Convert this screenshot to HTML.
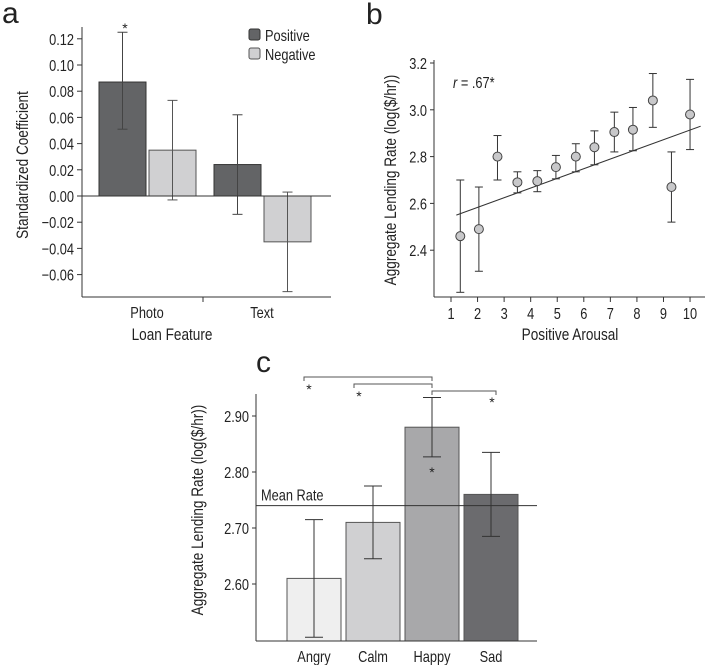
<!DOCTYPE html>
<html><head><meta charset="utf-8"><style>
body{margin:0;background:#fff}
svg{display:block}
text{font-family:"Liberation Sans",sans-serif;fill:#222}
</style></head><body>
<svg id="s" width="709" height="665"></svg>
<script>
// Panel a data
const aCats=["Photo","Text"];
const aPos=[0.087,0.024],aPosLo=[0.051,-0.014],aPosHi=[0.125,0.062];
const aNeg=[0.035,-0.035],aNegLo=[-0.003,-0.073],aNegHi=[0.073,0.003];
const aTicks=[0.12,0.10,0.08,0.06,0.04,0.02,0.00,-0.02,-0.04,-0.06];
const aTickLabels=["0.12","0.10","0.08","0.06","0.04","0.02","0.00","\u22120.02","\u22120.04","\u22120.06"];
// Panel b data
const bX=[1.35,2.05,2.75,3.5,4.25,4.95,5.7,6.4,7.15,7.85,8.6,9.3,10];
const bY=[2.46,2.49,2.80,2.69,2.695,2.755,2.80,2.84,2.905,2.915,3.04,2.67,2.98];
const bLo=[2.22,2.31,2.70,2.645,2.65,2.705,2.735,2.765,2.82,2.825,2.925,2.52,2.83];
const bHi=[2.70,2.67,2.89,2.735,2.74,2.805,2.855,2.91,2.99,3.01,3.155,2.82,3.13];
const bFitX=[1.2,10.4],bFitY=[2.55,2.93];
const bYTicks=[3.2,3.0,2.8,2.6,2.4];
const bYTickLabels=["3.2","3.0","2.8","2.6","2.4"];
const bXTicks=[1,2,3,4,5,6,7,8,9,10];
// Panel c data
const cCats=["Angry","Calm","Happy","Sad"];
const cVals=[2.61,2.71,2.88,2.76];
const cLo=[2.505,2.645,2.827,2.685];
const cHi=[2.715,2.775,2.933,2.835];
const cMean=2.74;
const cTicks=[2.90,2.80,2.70,2.60];
const cTickLabels=["2.90","2.80","2.70","2.60"];

const s=document.getElementById('s');
const NS="http://www.w3.org/2000/svg";
const SX=0.8;
const FT=16, FL=17;
function mk(tag,at,txt){const e=document.createElementNS(NS,tag);for(const k in at)e.setAttribute(k,at[k]);if(txt!==undefined)e.textContent=txt;s.appendChild(e);return e;}
function tx(x,y,size,anchor,txt,rot){const tr=rot?`translate(${x},${y}) rotate(-90) scale(${SX},1)`:`translate(${x},${y}) scale(${SX},1)`;
 return mk('text',{x:0,y:0,'font-size':size,'text-anchor':anchor||'start',transform:tr},txt);}
function line(x1,y1,x2,y2,st,w){return mk('line',{x1,y1,x2,y2,stroke:st||'#333','stroke-width':w||1});}
function errbar(x,y1,y2,hw,st){line(x,y1,x,y2,st);line(x-hw,y1,x+hw,y1,st);line(x-hw,y2,x+hw,y2,st);}

// ===== Panel a =====
const ay=v=>196-(v/0.02)*26.2;
let e;
e=mk('text',{x:2,y:23,'font-size':30},'a');


aTicks.forEach((t,i)=>{line(77,ay(t),82,ay(t));e=tx(74,ay(t)+6,FT,'end',aTickLabels[i]);

});
const aGroupX=[99,214];
aCats.forEach((c,i)=>{
 const x0=aGroupX[i];
 e=mk('rect',{x:x0,y:Math.min(ay(aPos[i]),ay(0)),width:47,height:Math.abs(ay(aPos[i])-ay(0)),fill:'#636466',stroke:'#333'});
 
 
 e=mk('rect',{x:x0+50,y:Math.min(ay(aNeg[i]),ay(0)),width:47,height:Math.abs(ay(aNeg[i])-ay(0)),fill:'#d0d0d2',stroke:'#555'});
 
 
 errbar(x0+23.5,ay(aPosLo[i]),ay(aPosHi[i]),5,'#444');
 errbar(x0+73.5,ay(aNegLo[i]),ay(aNegHi[i]),5,'#555');
 e=tx(x0+48,318,FT,'middle',c);
 
 
});
mk('text',{x:125,y:33,'font-size':14,'text-anchor':'middle'},'*');
line(82,27,82,297);line(82,297,331,297);line(82,196,331,196);line(203,297,203,302);
e=tx(172,340,FL,'middle','Loan Feature');


e=tx(28,165,FL,'middle','Standardized Coefficient',true);


e=mk('rect',{x:249,y:29,width:11,height:11,rx:2,fill:'#636466',stroke:'#333'});


tx(265,41,FT,'start','Positive');
e=mk('rect',{x:249,y:48,width:11,height:11,rx:2,fill:'#d0d0d2',stroke:'#555'});


tx(265,60,FT,'start','Negative');

// ===== Panel b =====
const bx=v=>451+(v-1)*26.56;
const by=v=>63+(3.2-v)/0.2*46.8;
e=mk('text',{x:366,y:24,'font-size':30},'b');


line(434,60,434,297);line(434,297,705,297);
bYTicks.forEach((t,i)=>{line(430,by(t),434,by(t));e=tx(427,by(t)+6,FT,'end',bYTickLabels[i]);

});
bXTicks.forEach(t=>{line(bx(t),297,bx(t),302);e=tx(bx(t),319,FT,'middle',String(t));

});
e=line(bx(bFitX[0]),by(bFitY[0]),bx(bFitX[1]),by(bFitY[1]),'#333',1);


bX.forEach((x,i)=>{
 errbar(bx(x),by(bLo[i]),by(bHi[i]),4,'#333');
 e=mk('circle',{cx:bx(x),cy:by(bY[i]),r:4.5,fill:'#c8c8ca',stroke:'#444'});
 
 
});
tx(453,88,FT,'start','').innerHTML='<tspan font-style="italic">r</tspan> = .67*';
e=tx(570,340,FL,'middle','Positive Arousal');


e=tx(396,180,FL,'middle','Aggregate Lending Rate (log($/hr))',true);



// ===== Panel c =====
const cy=v=>416+(2.90-v)/0.1*56;
const cBarX=[287,346,405,464];
const cFill=['#efefef','#d0d0d2','#a8a8aa','#6b6b6e'];
e=mk('text',{x:256,y:372,'font-size':30},'c');


cCats.forEach((c,i)=>{
 e=mk('rect',{x:cBarX[i],y:cy(cVals[i]),width:54,height:641-cy(cVals[i]),fill:cFill[i],stroke:'#555'});
 
 
 errbar(cBarX[i]+27,cy(cLo[i]),cy(cHi[i]),9,'#333');
 e=tx(cBarX[i]+27,662,FT,'middle',c);
 
 
});
line(256,394,256,641);line(256,641,537,641);
cTicks.forEach((t,i)=>{line(252,cy(t),256,cy(t));e=tx(249,cy(t)+6,FT,'end',cTickLabels[i]);

});
e=line(256,cy(cMean),537,cy(cMean),'#333');


tx(261,cy(cMean)-5,FT,'start','Mean Rate');
function bracket(x1,x2,y){const p=mk('path',{d:`M${x1},${y+4}V${y}H${x2}V${y+4}`,fill:'none',stroke:'#555'});}
bracket(304,432,377);bracket(354,432,384);bracket(432,496,391);
mk('text',{x:309,y:394,'font-size':14,'text-anchor':'middle'},'*');
mk('text',{x:359,y:401,'font-size':14,'text-anchor':'middle'},'*');
mk('text',{x:492,y:407,'font-size':14,'text-anchor':'middle'},'*');
mk('text',{x:432,y:477,'font-size':14,'text-anchor':'middle'},'*');
e=tx(203,510,FL,'middle','Aggregate Lending Rate (log($/hr))',true);


</script>
</body></html>
